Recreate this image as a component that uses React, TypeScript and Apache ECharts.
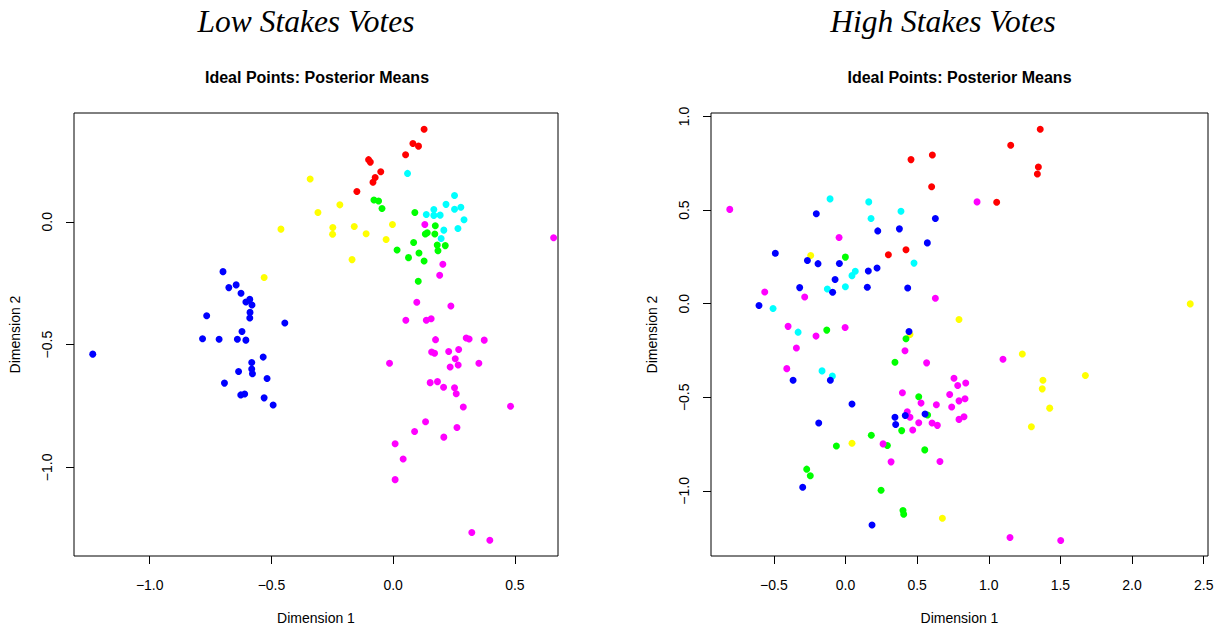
import React, { useEffect, useRef } from "react";
import * as echarts from "echarts";

// ---- Low stakes votes (left panel): [Dimension 1, Dimension 2] ----
const lowBlue = [[-0.699,-0.203],[-0.645,-0.257],[-0.675,-0.268],[-0.625,-0.291],[-0.589,-0.316],[-0.605,-0.327],[-0.580,-0.339],[-0.588,-0.369],[-0.589,-0.392],[-0.766,-0.383],[-0.445,-0.412],[-0.621,-0.447],[-0.783,-0.476],[-0.715,-0.478],[-0.640,-0.478],[-0.605,-0.482],[-1.234,-0.539],[-0.534,-0.551],[-0.581,-0.573],[-0.581,-0.600],[-0.578,-0.619],[-0.635,-0.610],[-0.518,-0.638],[-0.693,-0.657],[-0.626,-0.705],[-0.610,-0.701],[-0.530,-0.717],[-0.493,-0.746]];
const lowRed = [[0.127,0.377],[0.081,0.319],[0.104,0.308],[0.051,0.273],[-0.101,0.253],[-0.094,0.243],[-0.051,0.204],[-0.074,0.180],[-0.083,0.161],[-0.149,0.123]];
const lowCyan = [[0.059,0.197],[0.252,0.107],[0.217,0.071],[0.278,0.059],[0.252,0.051],[0.167,0.050],[0.136,0.030],[0.167,0.026],[0.193,0.027],[0.291,0.008],[0.208,-0.034],[0.266,-0.027],[0.197,-0.068]];
const lowGreen = [[-0.079,0.089],[-0.060,0.085],[-0.046,0.054],[0.089,0.038],[0.173,-0.016],[0.140,-0.045],[0.132,-0.050],[0.171,-0.050],[0.084,-0.084],[0.181,-0.095],[0.214,-0.097],[0.184,-0.118],[0.016,-0.115],[0.106,-0.127],[0.063,-0.146],[0.127,-0.160],[0.103,-0.242]];
const lowYellow = [[-0.341,0.174],[-0.309,0.038],[-0.461,-0.030],[-0.530,-0.227],[-0.219,0.069],[-0.248,-0.023],[-0.249,-0.051],[-0.160,-0.019],[-0.111,-0.049],[-0.003,-0.011],[-0.029,-0.072],[-0.169,-0.154]];
const lowMagenta = [[0.130,-0.011],[0.659,-0.065],[0.204,-0.173],[0.191,-0.218],[0.097,-0.328],[0.237,-0.343],[0.052,-0.401],[0.136,-0.401],[0.156,-0.395],[0.174,-0.480],[0.300,-0.473],[0.312,-0.477],[0.374,-0.482],[0.158,-0.530],[0.170,-0.535],[0.228,-0.528],[0.269,-0.520],[0.255,-0.558],[0.267,-0.583],[0.234,-0.591],[0.352,-0.576],[-0.015,-0.576],[0.152,-0.655],[0.182,-0.651],[0.207,-0.674],[0.252,-0.676],[0.259,-0.700],[0.288,-0.754],[0.482,-0.751],[0.133,-0.814],[0.262,-0.838],[0.088,-0.854],[0.208,-0.877],[0.008,-0.904],[0.041,-0.966],[0.008,-1.050],[0.323,-1.265],[0.397,-1.297]];

// ---- High stakes votes (right panel) ----
const highRed = [[0.457,0.770],[0.606,0.795],[0.601,0.625],[0.299,0.262],[0.422,0.288],[1.359,0.932],[1.153,0.847],[1.346,0.730],[1.339,0.693],[1.055,0.542]];
const highBlue = [[-0.204,0.481],[0.627,0.455],[0.225,0.389],[0.376,0.400],[0.571,0.325],[-0.490,0.270],[-0.266,0.231],[-0.192,0.214],[-0.043,0.215],[0.220,0.191],[0.159,0.175],[-0.073,0.129],[-0.320,0.086],[-0.090,0.061],[0.152,0.088],[0.434,0.084],[-0.604,-0.010],[0.443,-0.148],[-0.106,-0.409],[-0.366,-0.409],[0.045,-0.536],[0.417,-0.597],[0.555,-0.589],[0.345,-0.607],[0.350,-0.645],[-0.187,-0.637],[-0.299,-0.981],[0.185,-1.182]];
const highCyan = [[-0.108,0.560],[0.162,0.544],[0.387,0.494],[0.178,0.455],[0.478,0.217],[0.068,0.173],[0.045,0.150],[-0.127,0.079],[-0.001,0.091],[-0.506,-0.026],[-0.331,-0.152],[-0.164,-0.359],[-0.092,-0.387]];
const highGreen = [[-0.001,0.249],[-0.131,-0.141],[0.422,-0.187],[0.345,-0.313],[0.511,-0.497],[0.573,-0.595],[0.392,-0.678],[0.180,-0.703],[-0.064,-0.760],[0.292,-0.758],[0.553,-0.781],[-0.271,-0.884],[-0.246,-0.919],[0.248,-0.997],[0.401,-1.105],[0.406,-1.125]];
const highYellow = [[2.406,-0.001],[0.792,-0.084],[-0.243,0.258],[0.450,-0.164],[0.045,-0.746],[0.676,-1.146],[1.234,-0.269],[1.378,-0.409],[1.373,-0.455],[1.674,-0.384],[1.425,-0.558],[1.297,-0.657]];
const highMagenta = [[0.918,0.544],[-0.808,0.504],[-0.045,0.354],[-0.564,0.063],[-0.285,0.036],[0.627,0.029],[-0.401,-0.121],[-0.206,-0.173],[-0.003,-0.127],[-0.343,-0.237],[0.415,-0.251],[0.566,-0.316],[-0.410,-0.347],[0.757,-0.398],[0.783,-0.437],[0.839,-0.424],[0.397,-0.476],[0.727,-0.485],[0.792,-0.519],[0.834,-0.508],[0.527,-0.531],[0.634,-0.540],[0.741,-0.552],[0.431,-0.577],[0.450,-0.607],[0.792,-0.618],[0.827,-0.604],[0.511,-0.636],[0.604,-0.637],[0.641,-0.650],[0.469,-0.675],[0.262,-0.749],[0.318,-0.845],[0.659,-0.843],[1.099,-0.297],[1.148,-1.249],[1.502,-1.265]];

// ---- Tick values ----
const lowXTicks = [-1.0, -0.5, 0.0, 0.5];
const lowYTicks = [-1.0, -0.5, 0.0];
const highXTicks = [-0.5, 0.0, 0.5, 1.0, 1.5, 2.0, 2.5];
const highYTicks = [-1.0, -0.5, 0.0, 0.5, 1.0];

const panelTitles = ["Low Stakes Votes", "High Stakes Votes"];
const subTitle = "Ideal Points: Posterior Means";
const xName = "Dimension 1";
const yName = "Dimension 2";

const SANS = '"Liberation Sans", Arial, Helvetica, sans-serif';
const SERIF = '"Liberation Serif", "Times New Roman", serif';

const fmt = (v: number) => {
  const s = Math.abs(v).toFixed(1);
  return v < 0 ? "\u2212" + s : s;
};

function makeAxis(kind: "x" | "y", gridIndex: number, min: number, max: number, ticks: number[]) {
  return {
    type: "value",
    gridIndex,
    min,
    max,
    name: kind === "x" ? xName : yName,
    nameLocation: "middle",
    nameGap: kind === "x" ? 55 : 52,
    nameTextStyle: { fontFamily: SANS, fontSize: 14, color: "#000" },
    axisLine: { show: false, onZero: false },
    splitLine: { show: false },
    axisTick: {
      show: true,
      inside: false,
      length: 8,
      customValues: ticks,
      lineStyle: { color: "#000", width: 1 },
    },
    axisLabel: {
      show: true,
      customValues: ticks,
      margin: kind === "x" ? 22 : 20,
      rotate: kind === "y" ? 90 : 0,
      fontFamily: SANS,
      fontSize: 14,
      color: "#000",
      formatter: (v: number) => fmt(v),
    },
  };
}

const colorMap: Record<string, string> = {
  blue: "#0000FF",
  red: "#FF0000",
  cyan: "#00FFFF",
  green: "#00FF00",
  yellow: "#FFFF00",
  magenta: "#FF00FF",
};

function sc(data: number[][], color: string, idx: number) {
  return {
    type: "scatter",
    xAxisIndex: idx,
    yAxisIndex: idx,
    data,
    symbol: "circle",
    symbolSize: 7,
    itemStyle: { color: colorMap[color], opacity: 1 },
    silent: true,
  };
}

export default function App() {
  const ref = useRef<HTMLDivElement>(null);
  useEffect(() => {
    if (!ref.current) return;
    const chart = echarts.init(ref.current, undefined, { renderer: "svg" });
    const option = {
      animation: false,
      backgroundColor: "#fff",
      grid: [
        { left: 74, top: 113, width: 484, height: 445, show: true, borderColor: "#000", borderWidth: 1, backgroundColor: "transparent" },
        { left: 711, top: 113, width: 497, height: 445, show: true, borderColor: "#000", borderWidth: 1, backgroundColor: "transparent" },
      ],
      xAxis: [
        makeAxis("x", 0, -1.311, 0.677, lowXTicks),
        makeAxis("x", 1, -0.939, 2.53, highXTicks),
      ],
      yAxis: [
        makeAxis("y", 0, -1.361, 0.443, lowYTicks),
        makeAxis("y", 1, -1.348, 1.019, highYTicks),
      ],
      graphic: [
        { type: "text", x: 306, y: 21.5, style: { text: panelTitles[0], font: `italic 31.5px ${SERIF}`, fill: "#000", align: "center", verticalAlign: "middle" } },
        { type: "text", x: 943, y: 21.5, style: { text: panelTitles[1], font: `italic 31.5px ${SERIF}`, fill: "#000", align: "center", verticalAlign: "middle" } },
        { type: "text", x: 317, y: 77.5, style: { text: subTitle, font: `bold 16px ${SANS}`, fill: "#000", align: "center", verticalAlign: "middle" } },
        { type: "text", x: 959.5, y: 77.5, style: { text: subTitle, font: `bold 16px ${SANS}`, fill: "#000", align: "center", verticalAlign: "middle" } },
      ],
      series: [
        sc(lowBlue, "blue", 0),
        sc(lowRed, "red", 0),
        sc(lowCyan, "cyan", 0),
        sc(lowGreen, "green", 0),
        sc(lowYellow, "yellow", 0),
        sc(lowMagenta, "magenta", 0),
        sc(highRed, "red", 1),
        sc(highCyan, "cyan", 1),
        sc(highYellow, "yellow", 1),
        sc(highGreen, "green", 1),
        sc(highMagenta, "magenta", 1),
        sc(highBlue, "blue", 1),
      ],
    };
    chart.setOption(option as any);
    return () => chart.dispose();
  }, []);
  return (
    <div
      ref={ref}
      style={{ position: "fixed", left: 0, top: 0, width: 1220, height: 630, background: "#fff" }}
    />
  );
}
